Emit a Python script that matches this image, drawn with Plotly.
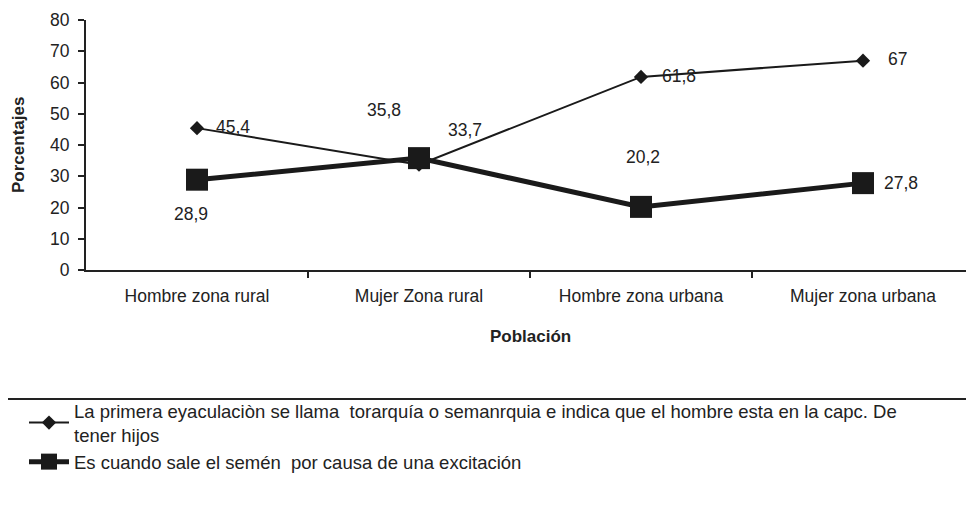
import plotly.graph_objects as go

categories = ["Hombre zona rural", "Mujer Zona rural", "Hombre zona urbana", "Mujer zona urbana"]
serie1_name = "La primera eyaculaciòn se llama  torarquía o semanrquia e indica que el hombre esta en la capc. De<br>tener hijos"
serie2_name = "Es cuando sale el semén  por causa de una excitación"
serie1 = [45.4, 33.7, 61.8, 67]
serie2 = [28.9, 35.8, 20.2, 27.8]
serie1_labels = ["45,4", "33,7", "61,8", "67"]
serie2_labels = ["28,9", "35,8", "20,2", "27,8"]
y_ticks = [0, 10, 20, 30, 40, 50, 60, 70, 80]

FONT = "Liberation Sans, Arial, sans-serif"
TXT = "#222222"
INK = "#1a1a1a"

# page body margin offset (browser default)
OFF = 8
W, H = 974 - OFF, 507 - OFF
# plot area in screen pixels
X0, Y0, X1, Y1 = 86, 20, 974, 270
ML, MT = X0 - OFF, Y0 - OFF
PW, PH = X1 - X0, Y1 - Y0


def px_x(px):
    return (px - X0) / PW


def px_y(py):
    return (Y1 - py) / PH


fig = go.Figure()
fig.add_trace(go.Scatter(
    x=list(range(len(categories))), y=serie1, name=serie1_name, mode="lines+markers",
    line=dict(color=INK, width=2), marker=dict(symbol="diamond", size=11, color=INK)))
fig.add_trace(go.Scatter(
    x=list(range(len(categories))), y=serie2, name=serie2_name, mode="lines+markers",
    line=dict(color=INK, width=5), marker=dict(symbol="square", size=22, color=INK)))

LBL = 17.5
# data labels
s1_off = [(36, 1), (46, 35), (38, 1), (34, 2)]
for i, (v, t) in enumerate(zip(serie1, serie1_labels)):
    fig.add_annotation(x=i, y=v, text=t, showarrow=False, xshift=s1_off[i][0], yshift=s1_off[i][1],
                       font=dict(family=FONT, size=LBL, color=TXT))
s2_off = [(-6, -34), (-35, 48), (2, 50), (38, 0)]
for i, (v, t) in enumerate(zip(serie2, serie2_labels)):
    fig.add_annotation(x=i, y=v, text=t, showarrow=False, xshift=s2_off[i][0], yshift=s2_off[i][1],
                       font=dict(family=FONT, size=LBL, color=TXT))

# axis titles
fig.add_annotation(text="<b>Población</b>", xref="paper", yref="paper", x=0.5, y=px_y(336),
                   xanchor="center", yanchor="middle",
                   showarrow=False, font=dict(family=FONT, size=17, color=TXT))
fig.add_annotation(text="<b>Porcentajes</b>", xref="paper", yref="paper", x=px_x(18), y=0.5,
                   xanchor="center", yanchor="middle",
                   textangle=-90, showarrow=False, font=dict(family=FONT, size=17, color=TXT))

# legend top border line
fig.add_shape(type="line", xref="paper", yref="paper", x0=px_x(0), x1=1, y0=px_y(399),
              y1=px_y(399), line=dict(color="#222222", width=2))

fig.update_layout(
    width=W, height=H,
    margin=dict(l=ML, r=0, t=MT, b=H - MT - PH, autoexpand=False),
    paper_bgcolor="white", plot_bgcolor="white",
    font=dict(family=FONT, size=17, color=TXT),
    showlegend=True,
    legend=dict(xref="container", yref="container", x=16 / W, y=1 - (392 - OFF) / H,
                xanchor="left", yanchor="top", font=dict(family=FONT, size=18.5, color=TXT),
                bgcolor="rgba(0,0,0,0)", tracegroupgap=0, itemwidth=40),
    xaxis=dict(range=[-0.5, 3.5], tickmode="array", tickvals=list(range(len(categories))),
               ticktext=categories, tickangle=0, showline=True, linecolor="#222222", linewidth=2,
               showgrid=False, zeroline=False, ticks="", tickfont=dict(size=17.5),
               ticklabelstandoff=9,
               minor=dict(tickmode="array", tickvals=[0.5, 1.5, 2.5], ticks="outside",
                          ticklen=6, tickcolor="#222222", tickwidth=2)),
    yaxis=dict(range=[0, 80], tickmode="array", tickvals=y_ticks, showline=True,
               linecolor="#222222", linewidth=2, showgrid=False, zeroline=False,
               ticks="outside", ticklen=6, tickcolor="#222222", tickwidth=2,
               tickfont=dict(size=17.5), ticklabelstandoff=5),
)

fig.write_html("out.html")
